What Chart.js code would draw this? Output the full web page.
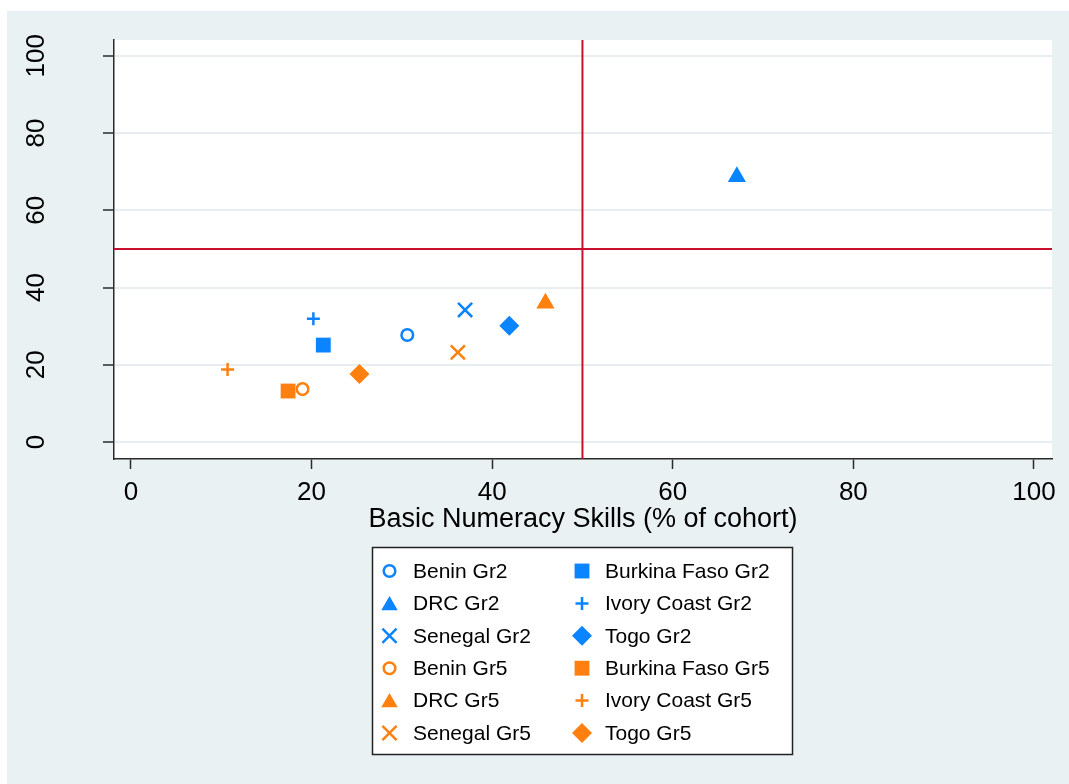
<!DOCTYPE html>
<html>
<head>
<meta charset="utf-8">
<script src="https://cdn.jsdelivr.net/npm/chart.js@4/dist/chart.umd.min.js"></script>
<style>
  html, body { margin: 0; padding: 0; background: #ffffff; }
  #wrap { width: 1069px; height: 784px; }
</style>
</head>
<body>
<div id="wrap"><canvas id="chart" width="1069" height="784"></canvas></div>
<script>
// Data
const countries = ['Benin', 'Burkina Faso', 'DRC', 'Ivory Coast', 'Senegal', 'Togo'];
const gr2X = [30.6, 21.3, 67.1, 20.2, 37.0, 41.9];
const gr2Y = [27.7, 25.1, 68.7, 31.9, 34.2, 30.1];
const gr5X = [19.0, 17.4, 45.9, 10.7, 36.2, 25.3];
const gr5Y = [13.7, 13.2, 35.9, 18.8, 23.2, 17.6];
const xTicks = [0, 20, 40, 60, 80, 100];
const yTicks = [0, 20, 40, 60, 80, 100];
const refX = 50;
const refY = 50;
const xTitle = 'Basic Numeracy Skills (% of cohort)';

// Styling
const blue = '#0b84ff';
const orange = '#ff800e';
const bgColor = '#eaf1f3';
const gridColor = '#e6eef1';
const axisColor = '#2a2a2a';
const fontFamily = 'Arial, "Liberation Sans", sans-serif';
const markerStyles = ['circle', 'rect', 'triangle', 'cross', 'crossRot', 'rectRot'];
const markerRadius = [5.8, 10.5, 10.5, 6.5, 10, 10];
const markerBorder = [2.5, 0, 0, 2.5, 2.5, 0];

function makeSet(i, grade, xs, ys, color) {
  const hollow = markerStyles[i] === 'circle';
  return {
    label: countries[i] + ' ' + grade,
    data: [{ x: xs[i], y: ys[i] }],
    pointStyle: markerStyles[i],
    pointRadius: markerRadius[i],
    pointBorderWidth: markerBorder[i],
    pointBackgroundColor: hollow ? '#ffffff' : color,
    pointBorderColor: color,
    showLine: false
  };
}

const datasets = [];
countries.forEach((c, i) => datasets.push(makeSet(i, 'Gr2', gr2X, gr2Y, blue)));
countries.forEach((c, i) => datasets.push(makeSet(i, 'Gr5', gr5X, gr5Y, orange)));

// Background: white strip, bluish graph region, white plot region
const backdrop = {
  id: 'backdrop',
  beforeDraw(chart) {
    const { ctx, chartArea: a } = chart;
    ctx.save();
    ctx.fillStyle = '#ffffff';
    ctx.fillRect(0, 0, chart.width, chart.height);
    ctx.fillStyle = bgColor;
    ctx.fillRect(7, 11, chart.width - 7, chart.height - 11);
    ctx.fillStyle = '#ffffff';
    ctx.fillRect(a.left, a.top, a.right - a.left, a.bottom - a.top);
    ctx.restore();
  }
};

// Red reference lines at 50 / 50
const refLines = {
  id: 'refLines',
  beforeDatasetsDraw(chart) {
    const { ctx, chartArea: a, scales: { x, y } } = chart;
    const px = x.getPixelForValue(refX);
    const py = y.getPixelForValue(refY);
    ctx.save();
    ctx.strokeStyle = '#c8102e';
    ctx.lineWidth = 2;
    ctx.beginPath();
    ctx.moveTo(px, a.top);
    ctx.lineTo(px, a.bottom);
    ctx.moveTo(a.left, py);
    ctx.lineTo(a.right, py);
    ctx.stroke();
    ctx.restore();
  }
};

// Rotated y tick labels (read bottom to top)
const yLabels = {
  id: 'yLabels',
  afterDraw(chart) {
    const { ctx, scales: { y } } = chart;
    ctx.save();
    ctx.font = '26px ' + fontFamily;
    ctx.fillStyle = '#000000';
    ctx.textAlign = 'center';
    ctx.textBaseline = 'middle';
    yTicks.forEach(v => {
      ctx.save();
      ctx.translate(37, y.getPixelForValue(v));
      ctx.rotate(-Math.PI / 2);
      ctx.fillText(String(v), 0, 0);
      ctx.restore();
    });
    ctx.restore();
  }
};

// Boxed two-column legend under the plot
const boxLegend = {
  id: 'boxLegend',
  afterDraw(chart) {
    const ctx = chart.ctx;
    const box = { x: 372.5, y: 547.5, w: 420, h: 207 };
    ctx.save();
    ctx.fillStyle = '#ffffff';
    ctx.fillRect(box.x, box.y, box.w, box.h);
    ctx.strokeStyle = '#222222';
    ctx.lineWidth = 1.5;
    ctx.strokeRect(box.x, box.y, box.w, box.h);

    const colMarker = [389.5, 582];
    const colText = [413, 605];
    const row0 = 571;
    const rowStep = 32.4;
    ctx.font = '21px ' + fontFamily;
    ctx.textBaseline = 'middle';
    ctx.textAlign = 'left';
    chart.data.datasets.forEach((ds, i) => {
      const col = i % 2;
      const row = Math.floor(i / 2);
      const yy = row0 + row * rowStep;
      if (Chart.helpers && Chart.helpers.drawPoint) {
        ctx.save();
        ctx.fillStyle = ds.pointBackgroundColor;
        ctx.strokeStyle = ds.pointBorderColor;
        ctx.lineWidth = ds.pointBorderWidth;
        const dy = ds.pointStyle === 'triangle' ? 2 : 0;
        Chart.helpers.drawPoint(ctx, {
          pointStyle: ds.pointStyle,
          radius: ds.pointStyle === 'triangle' ? 9.5 : ds.pointRadius,
          rotation: 0,
          borderWidth: ds.pointBorderWidth
        }, colMarker[col], yy + dy);
        ctx.restore();
      }
      ctx.fillStyle = '#000000';
      ctx.fillText(ds.label, colText[col], yy + 1);
    });
    ctx.restore();
  }
};

new Chart(document.getElementById('chart'), {
  type: 'scatter',
  data: { datasets: datasets },
  options: {
    responsive: false,
    animation: false,
    devicePixelRatio: 1,
    events: [],
    layout: { padding: { top: 40, right: 17, bottom: 248, left: 0 } },
    plugins: {
      legend: { display: false },
      tooltip: { enabled: false }
    },
    scales: {
      x: {
        type: 'linear',
        min: -1.88,
        max: 102,
        afterBuildTicks: s => { s.ticks = xTicks.map(v => ({ value: v })); },
        afterFit: s => { s.height = 77; },
        grid: {
          display: true,
          drawOnChartArea: false,
          drawTicks: true,
          tickLength: 10,
          tickColor: axisColor,
          tickWidth: 1.5
        },
        border: { display: true, color: axisColor, width: 1.5 },
        ticks: {
          color: '#000000',
          font: { family: fontFamily, size: 26 },
          padding: 8,
          maxRotation: 0,
          autoSkip: false
        },
        title: {
          display: true,
          text: xTitle,
          color: '#000000',
          font: { family: fontFamily, size: 27 },
          padding: 0
        }
      },
      y: {
        type: 'linear',
        min: -4.4,
        max: 104.1,
        afterBuildTicks: s => { s.ticks = yTicks.map(v => ({ value: v })); },
        afterFit: s => { s.width = 114; },
        grid: {
          color: gridColor,
          lineWidth: 2,
          drawTicks: true,
          tickLength: 11,
          tickColor: axisColor,
          tickWidth: 1.5
        },
        border: { display: true, color: axisColor, width: 1.5 },
        ticks: { display: false }
      }
    }
  },
  plugins: [backdrop, refLines, yLabels, boxLegend]
});
</script>
</body>
</html>
